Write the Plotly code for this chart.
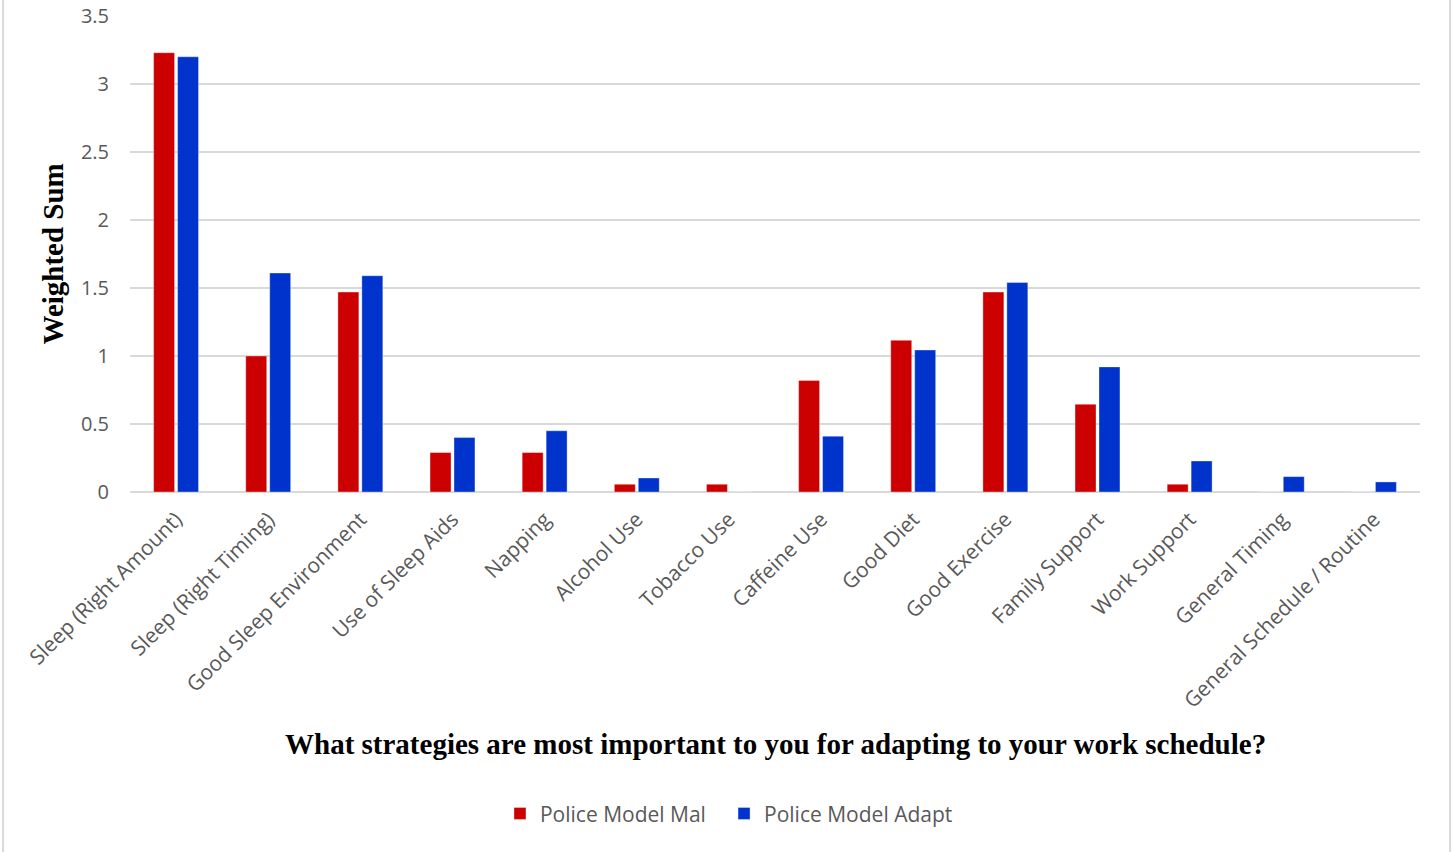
import plotly.graph_objects as go

categories = [
    "Sleep (Right Amount)", "Sleep (Right Timing)", "Good Sleep Environment",
    "Use of Sleep Aids", "Napping", "Alcohol Use", "Tobacco Use", "Caffeine Use",
    "Good Diet", "Good Exercise", "Family Support", "Work Support",
    "General Timing", "General Schedule / Routine",
]
mal_values = [3.23, 1.0, 1.47, 0.29, 0.29, 0.057, 0.057, 0.82, 1.115, 1.47, 0.645, 0.057, 0, 0]
adapt_values = [3.2, 1.61, 1.59, 0.40, 0.45, 0.103, 0, 0.41, 1.044, 1.54, 0.92, 0.228, 0.113, 0.074]
y_ticks = [0, 0.5, 1, 1.5, 2, 2.5, 3, 3.5]
y_tick_text = ["0", "0.5", "1", "1.5", "2", "2.5", "3", "3.5"]

RED = "#CC0000"
BLUE = "#0033CC"
TICK_GRAY = "#595959"
GRID = "#D9D9D9"

fig = go.Figure()
fig.add_trace(go.Bar(
    x=categories, y=mal_values, name="Police Model Mal", legend="legend",
    marker=dict(color=RED, line=dict(color="rgba(255,255,255,0.35)", width=1)),
))
fig.add_trace(go.Bar(
    x=categories, y=adapt_values, name="Police Model Adapt", legend="legend2",
    marker=dict(color=BLUE, line=dict(color="rgba(255,255,255,0.35)", width=1)),
))

legend_style = dict(
    orientation="h", xanchor="left", y=-0.676, yanchor="middle",
    font=dict(family="Open Sans", size=21, color=TICK_GRAY),
    itemwidth=30, bgcolor="rgba(0,0,0,0)",
)

fig.update_layout(
    width=1453, height=852,
    margin=dict(l=130, r=33, t=16, b=360, autoexpand=False),
    paper_bgcolor="white", plot_bgcolor="white",
    barmode="group", bargap=0.48, bargroupgap=0.125,
    font=dict(family="Open Sans", size=20, color=TICK_GRAY),
    showlegend=True,
    legend=dict(x=0.2868, **legend_style),
    legend2=dict(x=0.4605, **legend_style),
    xaxis=dict(
        tickangle=-45, showgrid=False, showline=False, ticks="",
        automargin=False, ticklabelstandoff=10,
        tickfont=dict(family="Open Sans", size=21, color=TICK_GRAY),
    ),
    yaxis=dict(
        range=[0, 3.5], tickvals=y_ticks, ticktext=y_tick_text,
        showgrid=True, gridcolor=GRID, gridwidth=1.5,
        zeroline=True, zerolinecolor=GRID, zerolinewidth=1.5,
        showline=False, ticks="", ticklabelstandoff=20, automargin=False,
        tickfont=dict(family="Open Sans", size=20, color=TICK_GRAY),
    ),
    annotations=[
        dict(
            text="<b>What strategies are most important to you for adapting to your work schedule?</b>",
            xref="paper", yref="paper", x=0.5, y=-0.529,
            xanchor="center", yanchor="middle", showarrow=False,
            font=dict(family="Liberation Serif", size=29, color="black"),
        ),
        dict(
            text="<b>Weighted Sum</b>",
            xref="paper", yref="paper", x=-0.0597, y=0.501,
            xanchor="center", yanchor="middle", textangle=-90, showarrow=False,
            font=dict(family="Liberation Serif", size=29, color="black"),
        ),
    ],
    shapes=[
        dict(type="line", xref="paper", yref="paper", x0=-0.0984, x1=-0.0984,
             y0=-1.5, y1=1.5, line=dict(color="#D9D9D9", width=2)),
        dict(type="line", xref="paper", yref="paper", x0=1.0233, x1=1.0233,
             y0=-1.5, y1=1.5, line=dict(color="#D9D9D9", width=2)),
    ],
)

fig.write_html("out.html")
